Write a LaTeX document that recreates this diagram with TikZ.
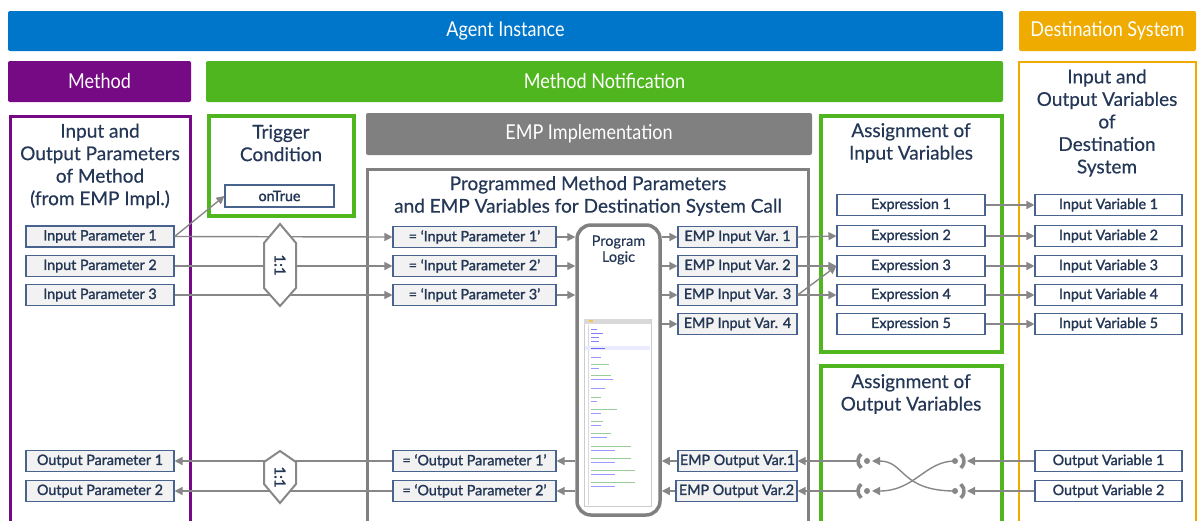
\documentclass[tikz,border=0pt]{standalone}
\usepackage{fontspec}
\setmainfont{Lato}
\newfontfamily\hdrfont{Lato}[FakeStretch=0.88]
\newfontfamily\boxfont{Lato}[FakeBold=1.6]
\newfontfamily\ttlfont{Lato}[FakeBold=0.4]
\usetikzlibrary{arrows.meta,calc}
\definecolor{agentblue}{RGB}{0,118,203}
\definecolor{destorange}{RGB}{240,171,0}
\definecolor{methpurple}{RGB}{118,10,133}
\definecolor{notegreen}{RGB}{80,182,32}
\definecolor{barGray}{RGB}{128,128,128}
\definecolor{navy}{RGB}{36,55,86}
\definecolor{boxc}{RGB}{72,100,142}
\definecolor{boxg}{RGB}{242,242,242}
\definecolor{lgray}{RGB}{135,135,135}
\begin{document}
\begin{tikzpicture}[x=1pt,y=-1pt,
  hbar/.style={rounded corners=2pt, text=white, inner sep=0pt, font=\hdrfont\fontsize{20.5}{22}\selectfont},
  ttl/.style={text=navy, align=center, inner sep=0pt, font=\ttlfont\fontsize{19}{22.5}\selectfont},
  colbox/.style={inner sep=0pt, fill=white},
  pbox/.style={draw=boxc, fill=boxg, line width=1.1pt, minimum height=21pt, inner sep=0pt, text=navy, font=\boxfont\fontsize{14.3}{15}\selectfont},
  wbox/.style={pbox, fill=white},
  conn/.style={draw=lgray, line width=1.4pt, -{Triangle[length=8pt,width=8pt]}},
  hexa/.style={draw=lgray, fill=white, line width=2pt},
  sock/.style={draw=lgray, line width=3.6pt},
]
\useasboundingbox (0,0) rectangle (1198,520);
\clip (0,0) rectangle (1198,520);

% header bars
\node[hbar, fill=agentblue, minimum width=995pt, minimum height=40pt] (agent) at (505.5,31) {Agent Instance};
\node[hbar, fill=destorange, minimum width=177pt, minimum height=40pt] (dest) at (1107.5,31) {Destination System};
\node[hbar, fill=methpurple, minimum width=183pt, minimum height=41pt] (meth) at (99.5,81.5) {Method};
\node[hbar, fill=notegreen, minimum width=797pt, minimum height=41pt] (mnot) at (604.5,81.5) {Method Notification};
\node[hbar, fill=barGray, minimum width=446pt, minimum height=42pt] (impl) at (589,134) {EMP Implementation};

% columns
\node[colbox, draw=methpurple, line width=3pt, minimum width=180pt, minimum height=414pt] (mcol) at (100,323) {};
\node[colbox, draw=notegreen, line width=3.5pt, minimum width=145pt, minimum height=100pt] (trig) at (281.5,166) {};
\node[colbox, draw=barGray, line width=3pt, minimum width=441pt, minimum height=361pt] (prog) at (587.5,349.5) {};
\node[colbox, draw=notegreen, line width=3.5pt, minimum width=181pt, minimum height=236pt] (ain) at (911.5,234) {};
\node[colbox, draw=notegreen, line width=3.5pt, minimum width=181pt, minimum height=164pt] (aout) at (911.5,448) {};
\node[colbox, draw=destorange, line width=2.5pt, minimum width=177pt, minimum height=468pt] (dcol) at (1107.5,296) {};

% titles
\node[ttl] (tmeth) at (100,166) {Input and\\Output Parameters\\of Method\\(from EMP Impl.)};
\node[ttl] (ttrig) at (281,143) {Trigger\\Condition};
\node[ttl] (tprog) at (588,196) {Programmed Method Parameters\\and EMP Variables for Destination System Call};
\node[ttl] (tain) at (911,143) {Assignment of\\Input Variables};
\node[ttl] (taout) at (911,394) {Assignment of\\Output Variables};
\node[ttl] (tdest) at (1107,123) {Input and\\Output Variables\\of\\Destination\\System};

% program logic
\node[draw=barGray, fill=white, line width=3.5pt, rounded corners=14pt, minimum width=83pt, minimum height=290pt, inner sep=0pt] (plog) at (618.5,370) {};
\node[text=navy, align=center, inner sep=0pt, font=\ttlfont\fontsize{14.5}{16}\selectfont] (plogt) at (618.5,250) {Program\\Logic};
% thumbnail of code
\draw[draw=black!20, fill=white, line width=0.6pt] (584,319) rectangle (651,506);
\fill[black!15] (584,319) rectangle (651,324);
\fill[destorange!70] (589,320) rectangle (593,322);
\draw[black!15, line width=0.5pt] (588,325) -- (588,505);
\fill[blue!8] (585,346) rectangle (650,350);
\foreach \yy/\w/\c in {329/6/blue!50, 333/12/blue!50, 337/8/blue!50, 341/8/blue!50, 348/14/blue!60,
  357/10/blue!40, 364/18/green!50!black!40, 368/8/blue!40, 375/20/green!50!black!40, 379/22/blue!40,
  388/14/blue!40, 397/10/green!50!black!40, 401/6/blue!40, 409/26/green!50!black!40, 413/10/blue!40,
  421/12/green!50!black!40, 425/10/blue!40, 433/20/green!50!black!40, 437/16/blue!40, 446/40/green!50!black!40,
  450/24/blue!40, 458/40/green!50!black!40, 462/24/blue!40, 470/44/green!50!black!40, 474/24/blue!40,
  482/44/green!50!black!40, 486/24/blue!40}
  {\draw[\c, line width=1pt] (591,\yy) -- ++(\w,0);}

% method parameter boxes
\node[pbox, minimum width=148pt] (ip1) at (100,236.5) {Input Parameter 1};
\node[pbox, minimum width=148pt] (ip2) at (100,266) {Input Parameter 2};
\node[pbox, minimum width=148pt] (ip3) at (100,295) {Input Parameter 3};
\node[pbox, minimum width=148pt] (op1) at (100,461) {Output Parameter 1};
\node[pbox, minimum width=148pt] (op2) at (100,491) {Output Parameter 2};

\node[wbox, minimum width=109pt, minimum height=22pt] (ontrue) at (279.5,196) {onTrue};

% programmed parameter boxes
\node[pbox, minimum width=163pt] (eq1) at (474.5,237) {= ‘Input Parameter 1’};
\node[pbox, minimum width=163pt] (eq2) at (474.5,266) {= ‘Input Parameter 2’};
\node[pbox, minimum width=163pt] (eq3) at (474.5,295) {= ‘Input Parameter 3’};
\node[pbox, minimum width=163pt] (eqo1) at (474.5,461) {= ‘Output Parameter 1’};
\node[pbox, minimum width=163pt] (eqo2) at (474.5,491) {= ‘Output Parameter 2’};

% EMP variables
\node[pbox, minimum width=119pt] (emp1) at (737.5,237) {EMP Input Var.\ 1};
\node[pbox, minimum width=119pt] (emp2) at (737.5,266) {EMP Input Var.\ 2};
\node[pbox, minimum width=119pt] (emp3) at (737.5,295) {EMP Input Var. 3};
\node[pbox, minimum width=119pt] (emp4) at (737.5,324) {EMP Input Var. 4};
\node[pbox, minimum width=119pt] (eo1) at (737.5,461) {EMP Output Var.1};
\node[pbox, minimum width=121pt] (eo2) at (736.5,491) {EMP Output Var.2};

% expressions
\node[wbox, minimum width=148pt] (ex1) at (911,205) {Expression 1};
\node[wbox, minimum width=148pt] (ex2) at (911,236) {Expression 2};
\node[wbox, minimum width=148pt] (ex3) at (911,266) {Expression 3};
\node[wbox, minimum width=148pt] (ex4) at (911,295) {Expression 4};
\node[wbox, minimum width=148pt] (ex5) at (911,324) {Expression 5};

% destination variables
\node[wbox, minimum width=147pt] (iv1) at (1108.5,205) {Input Variable 1};
\node[wbox, minimum width=147pt] (iv2) at (1108.5,236) {Input Variable 2};
\node[wbox, minimum width=147pt] (iv3) at (1108.5,266) {Input Variable 3};
\node[wbox, minimum width=147pt] (iv4) at (1108.5,295) {Input Variable 4};
\node[wbox, minimum width=147pt] (iv5) at (1108.5,324) {Input Variable 5};
\node[wbox, minimum width=147pt] (ov1) at (1108.5,461) {Output Variable 1};
\node[wbox, minimum width=147pt] (ov2) at (1108.5,491) {Output Variable 2};

% connectors: method -> programmed
\draw[conn] (ip1.east) -- (ontrue.west);
\draw[conn] (ip1.east) -- (eq1.west);
\draw[conn] (ip2.east) -- (eq2.west);
\draw[conn] (ip3.east) -- (eq3.west);
\draw[conn] (eqo1.west) -- (op1.east);
\draw[conn] (eqo2.west) -- (op2.east);

% hexagons (1:1)
\draw[hexa] (280,224) -- (296,243) -- (296,288) -- (280,306) -- (264,288) -- (264,243) -- cycle;
\node[text=navy, rotate=-90, inner sep=0pt, font=\boxfont\fontsize{15}{15}\selectfont] (h1) at (280,265) {1:1};
\draw[hexa] (280,451) -- (296,462) -- (296,484) -- (280,503) -- (264,484) -- (264,462) -- cycle;
\node[text=navy, rotate=-90, inner sep=0pt, font=\boxfont\fontsize{15}{15}\selectfont] (h2) at (280,477) {1:1};

% programmed -> program logic -> EMP variables
\foreach \n in {eq1,eq2,eq3}{\draw[conn] (\n.east) -- (\n.east -| plog.west);}
\foreach \n in {emp1,emp2,emp3,emp4}{\draw[conn] (\n.west -| plog.east) -- (\n.west);}
\foreach \n in {eo1,eo2}{\draw[conn] (\n.west) -- (\n.west -| plog.east);}
\foreach \n in {eqo1,eqo2}{\draw[conn] (\n.east -| plog.west) -- (\n.east);}

% EMP input vars -> expressions
\draw[conn] (emp1.east) -- (ex2.west);
\draw[conn] (emp2.east) -- (ex3.west);
\draw[conn] (emp3.east) -- (ex3.west);
\draw[conn] (emp3.east) -- (ex4.west);

% expressions -> input variables
\foreach \i in {1,...,5}{\draw[conn] (ex\i.east) -- (iv\i.west);}

% output sockets
\coordinate (lo1) at (867,461);
\coordinate (lo2) at (867,491);
\coordinate (ro1) at (955,461);
\coordinate (ro2) at (955,491);
\foreach \c in {lo1,lo2}{
  \draw[sock] ($(\c)+(130:9)$) arc[start angle=130, end angle=230, radius=9];
  \fill[lgray] (\c) circle (3);
}
\foreach \c in {ro1,ro2}{
  \draw[sock] ($(\c)+(-50:9)$) arc[start angle=-50, end angle=50, radius=9];
  \fill[lgray] (\c) circle (3);
}
\draw[conn] (ov1.west) -- ($(ro1)+(12,0)$);
\draw[conn] (ov2.west) -- ($(ro2)+(12,0)$);
\draw[conn] (ro1) .. controls (925,461) and (915,491) .. ($(lo2)+(5,0)$);
\draw[conn] (ro2) .. controls (900,491) and (905,461) .. ($(lo1)+(5,0)$);
\draw[conn] ($(lo1)+(-10,0)$) -- (eo1.east);
\draw[conn] ($(lo2)+(-10,0)$) -- (eo2.east);
\end{tikzpicture}
\end{document}
